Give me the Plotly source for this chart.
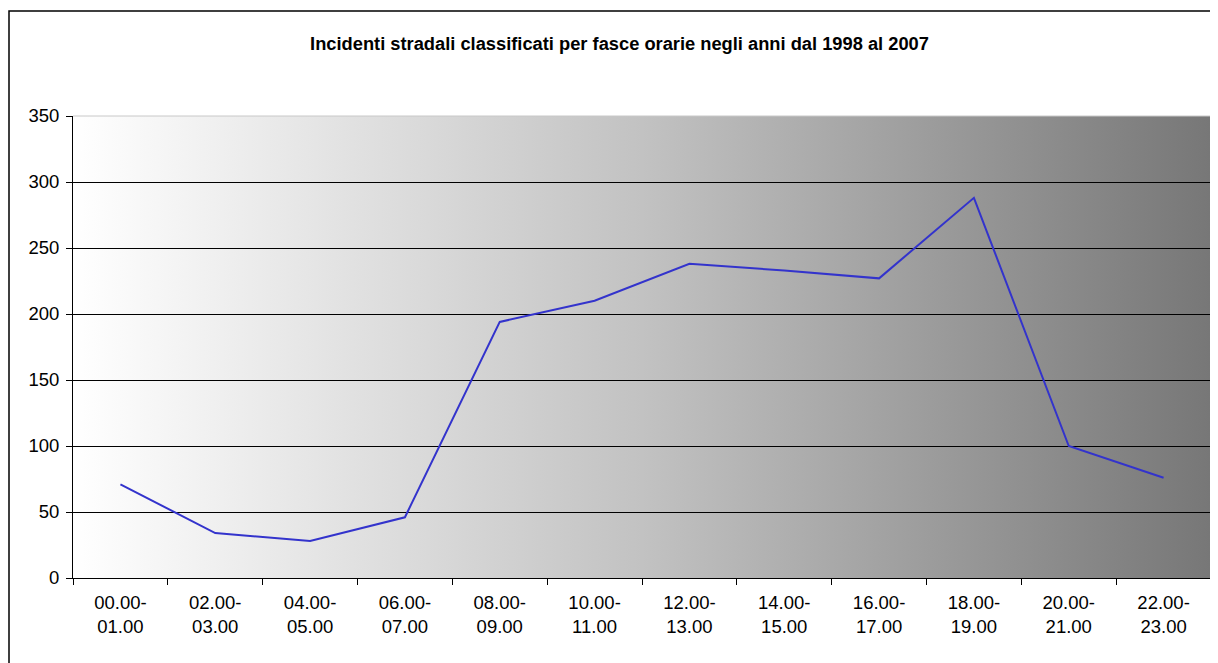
import base64

import plotly.graph_objects as go

# Fasce orarie e numero di incidenti (1998-2007)
fasce = ["00.00-<br>01.00", "02.00-<br>03.00", "04.00-<br>05.00", "06.00-<br>07.00",
         "08.00-<br>09.00", "10.00-<br>11.00", "12.00-<br>13.00", "14.00-<br>15.00",
         "16.00-<br>17.00", "18.00-<br>19.00", "20.00-<br>21.00", "22.00-<br>23.00"]
incidenti = [71, 34, 28, 46, 194, 210, 238, 233, 227, 288, 100, 76]
y_ticks = [0, 50, 100, 150, 200, 250, 300, 350]

# sfondo a gradiente orizzontale (bianco -> grigio), come in Excel
svg = ('<svg xmlns="http://www.w3.org/2000/svg" width="100" height="100" preserveAspectRatio="none">'
       '<defs><linearGradient id="g" x1="0" y1="0" x2="1" y2="0">'
       '<stop offset="0" stop-color="#ffffff"/><stop offset="0.5" stop-color="#c2c2c2"/>'
       '<stop offset="1" stop-color="#777777"/>'
       '</linearGradient></defs><rect width="100" height="100" fill="url(#g)"/></svg>')
bg_src = "data:image/svg+xml;base64," + base64.b64encode(svg.encode()).decode()

# la pagina ha 8px di margine sul body: i margini ne tengono conto
L, R, T, B = 65, 15, 108, 93
W, H = 1218, 663
pw, ph = W - L - R, H - T - B

fig = go.Figure()
fig.add_trace(go.Scatter(x=fasce, y=incidenti, mode="lines",
                         line=dict(color="#3333cc", width=2), hoverinfo="x+y"))

font = dict(family="Liberation Sans, Arial, sans-serif", size=18.5, color="black")

fig.update_layout(
    width=W, height=H,
    margin=dict(l=L, r=R, t=T, b=B),
    paper_bgcolor="white", plot_bgcolor="rgba(0,0,0,0)",
    showlegend=False, font=font,
    title=dict(text="<b>Incidenti stradali classificati per fasce orarie negli anni dal 1998 al 2007</b>",
               x=(619.5 - 8) / W, xanchor="center", y=1 - 36 / H, yanchor="middle",
               font=dict(family="Liberation Sans, Arial, sans-serif", size=18.3, color="black")),
    images=[dict(source=bg_src, xref="paper", yref="paper", x=0, y=1, sizex=1, sizey=1,
                 sizing="stretch", layer="below")],
)

fig.update_xaxes(type="category", tickson="boundaries", ticks="outside", ticklen=6,
                 tickcolor="black", showline=True, linecolor="black", linewidth=1,
                 showgrid=False, tickfont=font, range=[-0.5, 11.5], ticklabelstandoff=8)
fig.update_yaxes(range=[0, 350], tickvals=y_ticks, ticks="outside", ticklen=6,
                 tickcolor="black", showline=True, linecolor="black", linewidth=1,
                 showgrid=True, gridcolor="black", gridwidth=1, zeroline=False,
                 tickfont=font, ticklabelstandoff=3)

# bordo grigio chiaro dell'area del grafico (alto e destra) e cornice esterna
fig.add_shape(type="line", xref="paper", yref="paper", x0=0, x1=1, y0=1, y1=1,
              line=dict(color="#c8c8c8", width=1))
fig.add_shape(type="line", xref="paper", yref="paper", x0=1, x1=1, y0=0, y1=1,
              line=dict(color="#c8c8c8", width=1))
fig.add_shape(type="rect", xref="paper", yref="paper",
              x0=(1 - L) / pw, x1=1.2, y0=-0.4, y1=(ph + T - 3) / ph,
              line=dict(color="black", width=1.5), fillcolor="rgba(0,0,0,0)")

fig.write_html("out.html")
